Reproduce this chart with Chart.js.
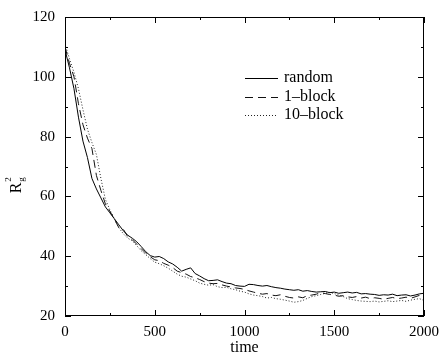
<!DOCTYPE html>
<html>
<head>
<meta charset="utf-8">
<script src="https://cdn.jsdelivr.net/npm/chart.js@4/dist/chart.umd.min.js"></script>
<style>
  html, body { margin: 0; padding: 0; background: #fff; }
  #wrap { width: 440px; height: 353px; }
</style>
</head>
<body>
<div id="wrap"><canvas id="chart" width="440" height="353"></canvas></div>
<script>
// time axis (sampled every 25 steps)
const times = [];
for (let t = 0; t <= 2000; t += 25) times.push(t);

const randomRg = [
  109, 103, 96, 86.5, 78.5, 73, 66, 62.5, 59.5, 56.5,
  54.5, 52.5, 50.5, 48.5, 47, 46, 44.8, 43.2, 41.5, 40.2,
  39.7, 39.9, 39.2, 38.1, 37.4, 36.3, 35.0, 35.6, 36.1, 34.2,
  33.4, 32.5, 31.8, 31.9, 32.1, 31.5, 31.0, 30.8, 30.2, 30.0,
  29.9, 30.6, 30.5, 30.2, 30.0, 30.2, 29.8, 29.5, 29.3, 29.0,
  28.8, 28.6, 28.8, 28.3, 28.5, 28.2, 28.0, 28.1, 28.2, 27.8,
  28.0, 27.6, 27.8, 28.0, 27.7, 27.9, 27.4, 27.5, 27.3, 27.2,
  26.9, 27.1, 27.0, 27.3, 26.8, 27.0, 27.1, 26.7, 27.0, 27.4,
  27.6
];

const block1Rg = [
  110, 104.5, 100, 91, 84, 79.5, 76, 67, 62, 57.5,
  55, 52.5, 49.5, 49.0, 46.5, 45.5, 44.0, 42.5, 41.0, 39.8,
  38.8, 38.5, 37.6, 37.0, 36.2, 35.0, 34.5, 34.0, 33.2, 32.8,
  32.2, 31.5, 31.0, 30.8, 30.9, 30.4, 30.0, 29.7, 29.4, 29.2,
  28.9, 28.4, 28.0, 27.6, 27.3, 27.5, 27.0, 26.8, 27.1, 26.6,
  26.2, 26.0, 26.4, 26.1, 26.8, 27.0, 27.3, 27.8, 27.5, 27.2,
  27.0, 26.6, 26.8, 26.4, 26.2, 26.5, 26.0, 26.3, 25.8, 26.1,
  25.9, 25.6, 25.9, 26.2, 25.8, 26.0, 26.3, 25.9, 26.4, 26.9,
  26.7
];

const block10Rg = [
  111, 106, 101.5, 96, 89, 82.5, 78, 74, 66, 59,
  55.5, 52.5, 49.5, 47.5, 46.0, 45.2, 43.5, 41.8, 40.5, 39.2,
  38.0, 37.5, 36.8, 36.0, 35.0, 34.0, 33.3, 33.0, 32.4, 31.8,
  31.0, 30.6, 30.3, 30.5, 29.8, 29.5, 29.6, 29.1, 28.8, 28.3,
  28.0, 27.4, 27.0, 26.8, 26.5, 26.0, 26.2, 25.8, 25.6, 25.3,
  25.0, 24.6, 24.8, 25.2, 25.9, 26.5, 26.8, 27.2, 27.6, 27.9,
  27.5, 27.0, 26.5, 25.8, 25.5, 25.2, 25.0, 24.9, 24.8, 25.0,
  24.7, 24.9, 25.1, 24.8, 25.0, 25.2, 24.9, 25.3, 25.6, 25.8,
  25.2
];

const seriesNames = ['random', '1\u2013block', '10\u2013block'];
const xTicks = [0, 500, 1000, 1500, 2000];
const yTicks = [20, 40, 60, 80, 100, 120];

const FONT = '"Liberation Serif", "Times New Roman", serif';

function pts(ys) {
  return times.map((t, i) => ({ x: t, y: ys[i] }));
}

const styles = [
  { borderDash: [], borderColor: '#000', borderWidth: 1 },
  { borderDash: [8, 5], borderColor: '#111', borderWidth: 1 },
  { borderDash: [1, 2], borderColor: '#222', borderWidth: 1 }
];

const datasets = [randomRg, block1Rg, block10Rg].map((ys, i) => ({
  label: seriesNames[i],
  data: pts(ys),
  pointRadius: 0,
  tension: 0,
  fill: false,
  ...styles[i]
}));

// frame, inward ticks, legend and axis labels
const decor = {
  id: 'decor',
  afterDraw(chart) {
    const ctx = chart.ctx;
    const a = chart.chartArea;
    const xs = chart.scales.x, ys = chart.scales.y;
    ctx.save();
    ctx.strokeStyle = '#000';
    ctx.lineWidth = 1;
    ctx.strokeRect(a.left + 0.5, a.top + 0.5, a.right - a.left - 1, a.bottom - a.top - 1);
    ctx.beginPath();
    for (let v = 0; v <= 2000; v += 250) {
      const px = Math.round(xs.getPixelForValue(v)) + 0.5;
      const len = v % 500 === 0 ? 6 : 3;
      ctx.moveTo(px, a.bottom); ctx.lineTo(px, a.bottom - len);
      ctx.moveTo(px, a.top); ctx.lineTo(px, a.top + len);
    }
    for (let v = 20; v <= 120; v += 10) {
      const py = Math.round(ys.getPixelForValue(v)) + 0.5;
      const len = v % 20 === 0 ? 6 : 3;
      ctx.moveTo(a.left, py); ctx.lineTo(a.left + len, py);
      ctx.moveTo(a.right, py); ctx.lineTo(a.right - len, py);
    }
    ctx.stroke();

    // legend
    const lx0 = 245, lx1 = 278, tx = 284;
    const rows = [78, 97, 115];
    chart.data.datasets.forEach((ds, i) => {
      const y = rows[i] + 0.5;
      ctx.beginPath();
      ctx.setLineDash(ds.borderDash || []);
      ctx.strokeStyle = ds.borderColor;
      ctx.moveTo(lx0, y); ctx.lineTo(lx1, y);
      ctx.stroke();
      ctx.setLineDash([]);
      ctx.fillStyle = '#000';
      ctx.font = '16px ' + FONT;
      ctx.textBaseline = 'middle';
      ctx.textAlign = 'left';
      ctx.fillText(ds.label, tx, rows[i]);
    });

    // x title
    ctx.fillStyle = '#000';
    ctx.font = '16px ' + FONT;
    ctx.textAlign = 'center';
    ctx.textBaseline = 'middle';
    ctx.fillText('time', (a.left + a.right) / 2, 348);

    // y title R_g^2 (rotated)
    ctx.translate(16, 186);
    ctx.rotate(-Math.PI / 2);
    ctx.textAlign = 'left';
    ctx.textBaseline = 'alphabetic';
    ctx.font = '16px ' + FONT;
    const rw = ctx.measureText('R').width;
    ctx.fillText('R', -rw / 2 - 2, 5);
    ctx.font = '9px ' + FONT;
    ctx.fillText('g', rw / 2 - 1, 8);
    ctx.fillText('2', rw / 2 - 1, -5);
    ctx.restore();
  }
};

new Chart(document.getElementById('chart'), {
  type: 'line',
  data: { datasets },
  options: {
    responsive: false,
    animation: false,
    events: [],
    layout: { padding: { top: 17, right: 16, left: 0, bottom: 0 } },
    plugins: { legend: { display: false }, tooltip: { enabled: false } },
    scales: {
      x: {
        type: 'linear',
        min: 0, max: 2000,
        afterFit: s => { s.height = 37; s.paddingRight = 0; s.paddingLeft = 0; },
        afterBuildTicks: s => { s.ticks = xTicks.map(v => ({ value: v })); },
        grid: { display: false, drawTicks: false },
        border: { display: false },
        ticks: { color: '#000', padding: 7, maxRotation: 0, callback: v => String(v), font: { family: FONT, size: 15 } }
      },
      y: {
        min: 20, max: 120,
        afterFit: s => { s.width = 65; s.paddingTop = 0; s.paddingBottom = 0; },
        afterBuildTicks: s => { s.ticks = yTicks.map(v => ({ value: v })); },
        grid: { display: false, drawTicks: false },
        border: { display: false },
        ticks: { color: '#000', padding: 10, callback: v => String(v), font: { family: FONT, size: 15 } }
      }
    }
  },
  plugins: [decor]
});
</script>
</body>
</html>
